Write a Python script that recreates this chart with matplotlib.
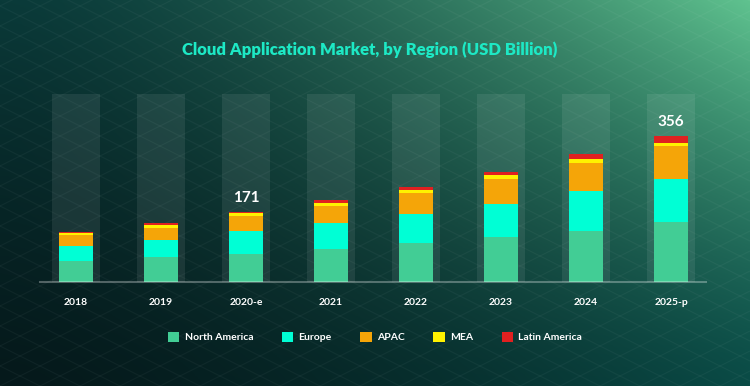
import numpy as np
import matplotlib
matplotlib.use("Agg")
import matplotlib.pyplot as plt
from matplotlib.patches import Patch

years = ['2018', '2019', '2020-e', '2021', '2022', '2023', '2024', '2025-p']
north_america = [50, 60, 68, 81, 96, 109, 124, 145]
europe = [37, 43, 56, 63, 69, 81, 97, 105]
apac = [27, 29, 37, 41, 51, 62, 68, 82]
mea = [6, 6, 6, 7, 8, 9, 11, 7]
latin_america = [2, 5, 4, 7, 8, 8, 11, 17]
labelled = {2: '171', 7: '356'}

series = [('North America', north_america, '#42cd95'),
          ('Europe', europe, '#00ffd5'),
          ('APAC', apac, '#f5a508'),
          ('MEA', mea, '#fff200'),
          ('Latin America', latin_america, '#e02020')]

W, H = 750, 386
fig = plt.figure(figsize=(W / 100, H / 100), dpi=100)
font = 'Lato'

# background: bilinear gradient between the four corner colours
xx, yy = np.meshgrid(np.linspace(0, 1, 300), np.linspace(0, 1, 160))
wx = xx ** 1.5
wy = yy ** 1.3
bl = np.array([5, 25, 27]) / 255
br = np.array([10, 75, 70]) / 255
tl = np.array([10, 58, 57]) / 255
tr = np.array([95, 194, 143]) / 255
img = ((1 - wx) * (1 - wy))[..., None] * bl + (wx * (1 - wy))[..., None] * br \
    + ((1 - wx) * wy)[..., None] * tl + (wx * wy)[..., None] * tr
bg = fig.add_axes([0, 0, 1, 1], zorder=-10)
bg.imshow(img, extent=[0, W, 0, H], origin='lower', aspect='auto')
# faint diamond lattice
for c in np.arange(-400, 800, 20):
    xs = np.array([0, W])
    bg.plot(xs, 0.5 * xs + c, color='white', alpha=0.04, lw=0.8)
    bg.plot(xs, -0.5 * xs + c, color='white', alpha=0.04, lw=0.8)
bg.set_xlim(0, W)
bg.set_ylim(0, H)
bg.axis('off')

ax = fig.add_axes([40 / W, 1 - 282 / H, 666 / W, 188 / H])
ax.set_facecolor('none')
x = np.arange(len(years))
ymax = 458
ax.bar(x, [ymax] * len(x), width=0.565, color='white', alpha=0.08, zorder=1)

bottom = np.zeros(len(x))
for name, vals, col in series:
    ax.bar(x, vals, width=0.4, bottom=bottom, color=col, label=name, zorder=3)
    bottom += np.array(vals)

for i, txt in labelled.items():
    ax.annotate(txt, (x[i], bottom[i]), xytext=(0, 5), textcoords='offset points',
                ha='center', va='bottom', color='white', fontsize=11,
                fontweight='bold', family=font)

ax.set_xlim(-0.424, 7.41)
ax.set_ylim(0, ymax)
ax.set_xticks(x)
ax.set_xticklabels(years, color='white', fontsize=7.5, fontweight='bold', family=font)
ax.tick_params(axis='x', length=0, pad=11.5)
ax.set_yticks([])
for s in ['top', 'right', 'left']:
    ax.spines[s].set_visible(False)
ax.spines['bottom'].set_color((1, 1, 1, 0.3))
ax.spines['bottom'].set_linewidth(1.5)
ax.spines['bottom'].set_zorder(4)

fig.text(0.4933, 1 - 50 / H, 'Cloud Application Market, by Region (USD Billion)',
         ha='center', va='center', color='#1de9c5', fontsize=12,
         fontweight='heavy', family=font)

handles = [Patch(facecolor=col, label=name) for name, _, col in series]
leg = fig.legend(handles=handles, loc='center', bbox_to_anchor=(0.5, 1 - 337 / H),
                 ncol=5, frameon=False, handlelength=1.1, handleheight=1.1,
                 handletextpad=0.5, columnspacing=2.75,
                 prop={'family': font, 'size': 7.5, 'weight': 'bold'})
for txt in leg.get_texts():
    txt.set_color('white')

fig.savefig('out.png', dpi=100)
